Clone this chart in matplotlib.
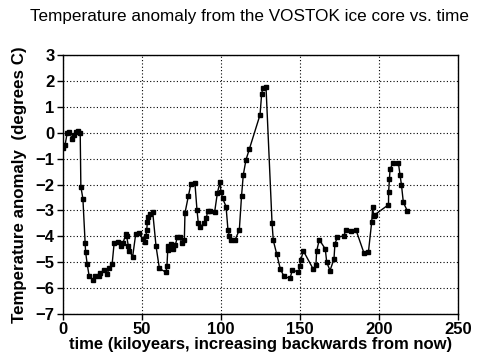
import matplotlib
matplotlib.use("Agg")
import matplotlib.pyplot as plt

# Vostok temperature anomaly
time_kyr = [0, 1.3, 2.7, 4.0, 5.9, 7.1, 8.4, 9.5, 10.9, 11.3, 12.6, 14.0, 14.3, 15.3,
            16.6, 19.1, 20.0, 22.9, 23.5, 26.0, 27.9, 29.4, 31.1, 32.4, 34.9, 37.0,
            38.0, 39.7, 40.3, 41.4, 42.0, 44.1, 46.0, 48.1, 50.4, 51.7, 52.5, 53.0,
            53.4, 53.8, 55.1, 56.8, 58.9, 61.0, 65.2, 65.8, 66.3, 66.7, 68.1, 69.8,
            71.1, 72.4, 74.0, 75.1, 76.8, 77.2, 79.3, 81.0, 83.5, 84.8, 85.6, 86.9,
            89.0, 90.7, 91.5, 93.0, 96.0, 97.7, 99.3, 100.0, 101.0, 103.2, 104.4,
            105.3, 106.5, 109.0, 111.6, 113.0, 114.1, 115.8, 117.9, 124.7, 125.7,
            126.4, 128.5, 132.3, 133.1, 135.2, 137.6, 139.9, 143.7, 145.2, 149.0,
            150.0, 150.6, 152.1, 158.4, 160.1, 160.5, 162.2, 166.0, 166.9, 169.0,
            171.5, 172.1, 173.6, 177.8, 178.9, 182.0, 185.4, 190.5, 193.3, 195.4,
            196.0, 196.6, 197.3, 206.0, 206.1, 206.6, 207.0, 208.7, 212.3, 213.3,
            214.2, 215.4, 218.0]
temp_anom = [-0.6, -0.47, 0.0, 0.03, -0.24, -0.08, 0.02, 0.07, -0.02, -2.08, -2.55,
             -4.25, -4.6, -5.07, -5.55, -5.68, -5.55, -5.53, -5.42, -5.3, -5.44, -5.23,
             -5.07, -4.24, -4.21, -4.37, -4.26, -3.92, -4.0, -4.39, -4.57, -4.78, -3.92,
             -3.88, -4.1, -4.21, -4.0, -3.75, -3.45, -3.25, -3.14, -3.08, -4.39, -5.24,
             -5.39, -5.14, -4.52, -4.39, -4.3, -4.49, -4.33, -4.03, -4.04, -4.24, -4.13,
             -3.1, -2.46, -1.97, -1.95, -2.98, -3.47, -3.65, -3.49, -3.3, -3.04, -3.02,
             -3.05, -2.33, -1.92, -2.27, -2.53, -2.85, -3.75, -3.98, -4.13, -4.13, -3.75,
             -2.44, -1.63, -1.05, -0.64, 0.69, 1.48, 1.71, 1.75, -3.49, -4.16, -4.67,
             -5.27, -5.55, -5.62, -5.29, -5.39, -5.16, -4.9, -4.56, -5.27, -5.1, -4.58,
             -4.13, -4.49, -5.0, -5.32, -4.88, -4.29, -4.04, -3.98, -3.77, -3.81, -3.75,
             -4.65, -4.61, -3.43, -2.85, -3.23, -3.17, -2.78, -2.27, -1.79, -1.41, -1.18,
             -1.18, -1.63, -2.01, -2.69, -3.03]

x_ticks = [0, 50, 100, 150, 200, 250]
y_ticks = list(range(-7, 4))

plt.rcParams['font.family'] = ['Liberation Sans', 'DejaVu Sans']

fig = plt.figure(figsize=(4.98, 3.59), dpi=100)
ax = fig.add_axes([0.1265, 0.1253, 0.7932, 0.7215])

ax.plot(time_kyr, temp_anom, color='black', lw=1.0, marker='s', ms=2.2,
        mfc='black', mec='black')

ax.set_xlim(0, 250)
ax.set_ylim(-7, 3)
ax.set_xticks(x_ticks)
ax.set_yticks(y_ticks)
ax.grid(True, color='black', linestyle=(0, (1, 2)), linewidth=0.8)
ax.tick_params(direction='out', length=4, width=1, labelsize=12, pad=2)
for lab in ax.get_xticklabels() + ax.get_yticklabels():
    lab.set_fontweight('bold')
for s in ax.spines.values():
    s.set_linewidth(1)

ax.set_xlabel('time (kiloyears, increasing backwards from now)', fontsize=12,
              fontweight='bold', labelpad=0)
ax.set_ylabel('Temperature anomaly  (degrees C)', fontsize=12.2, fontweight='bold',
              labelpad=6)
fig.text(0.5, 0.955, 'Temperature anomaly from the VOSTOK ice core vs. time',
         ha='center', va='center', fontsize=12.3)

fig.savefig('out.png', dpi=100)
